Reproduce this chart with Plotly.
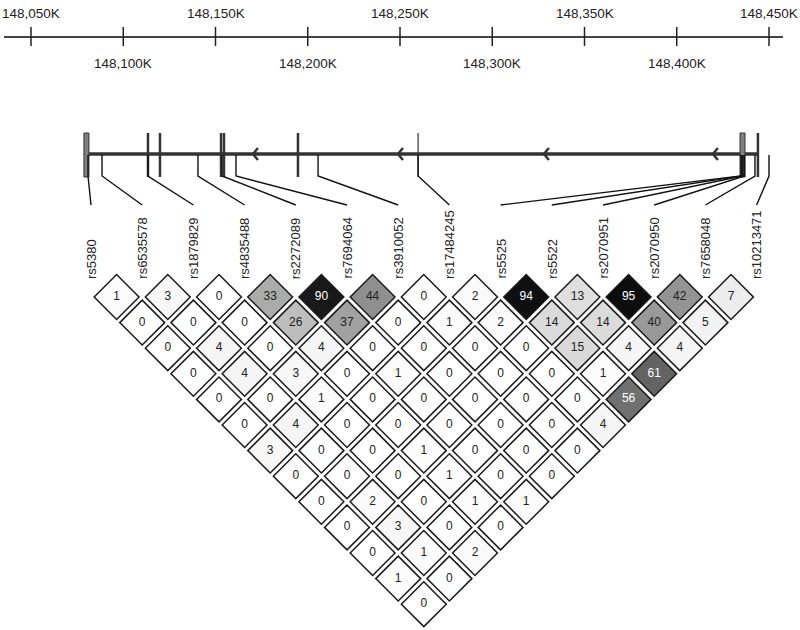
import plotly.graph_objects as go

# ---------------- data ----------------
snp_names = ["rs5380", "rs6535578", "rs1879829", "rs4835488", "rs2272089", "rs7694064",
             "rs3910052", "rs17484245", "rs5525", "rs5522", "rs2070951", "rs2070950",
             "rs7658048", "rs10213471"]
snp_pos_kb = [148080.9, 148088.5, 148113.4, 148140.5, 148153.5, 148161.1,
              148205.6, 148259.8, 148434.8, 148435.4, 148435.9, 148436.7,
              148442.4, 148450.0]

# pairwise r^2 x 100, listed by SNP distance (row 1 = adjacent pairs)
ld_rows = [
    [1, 3, 0, 33, 90, 44, 0, 2, 94, 13, 95, 42, 7],
    [0, 0, 0, 26, 37, 0, 1, 2, 14, 14, 40, 5],
    [0, 4, 0, 4, 0, 0, 0, 0, 15, 4, 4],
    [0, 4, 3, 0, 1, 0, 0, 0, 1, 61],
    [0, 0, 1, 0, 0, 0, 0, 0, 56],
    [0, 4, 0, 0, 0, 0, 0, 4],
    [3, 0, 0, 1, 0, 0, 0],
    [0, 0, 0, 1, 0, 0],
    [0, 2, 0, 1, 1],
    [0, 3, 0, 0],
    [0, 1, 2],
    [1, 0],
    [0],
]

axis_ticks_kb = [148050, 148100, 148150, 148200, 148250, 148300, 148350, 148400, 148450]
axis_tick_labels = ["148,050K", "148,100K", "148,150K", "148,200K", "148,250K",
                    "148,300K", "148,350K", "148,400K", "148,450K"]
axis_extent_kb = [148035.4, 148457.6]

gene_extent_kb = [148079.3, 148444.0]
exon_lines_kb = [148113.4, 148119.9, 148153.0, 148154.6, 148194.7, 148444.0]
thin_exon_kb = [148259.8]
exon_blocks_kb = [(148078.7, 148081.4), (148434.3, 148437.0)]
strand_arrows_kb = [148170.3, 148248.9, 148328.0, 148419.6]

# ---------------- layout calibration (pixels) ----------------
W, H = 800, 630
PX_PER_KB = 1.845
KB_REF, PX_REF = 148050, 31
IDX0_PX, IDX_STEP = 91, 51.2
ROW1_PX, ROW_STEP = 297, 25.6

Y_AXIS, Y_TICK0, Y_TICK1 = 37, 27, 46
Y_LAB_TOP, Y_LAB_BOT = 13, 63
Y_GENE, Y_EX0, Y_EX1 = 154, 133, 177
Y_SNP_BEND, Y_SNP_END = 176, 205
Y_LABEL_BOTTOM = 281

FONT = "Arial, Liberation Sans, sans-serif"
DARK = "#222222"


def kb_from_px(px):
    return KB_REF + (px - PX_REF) / PX_PER_KB


def label_kb(i):
    return kb_from_px(IDX0_PX + IDX_STEP * i)


fig = go.Figure()

# ---- top genomic axis ----
fig.add_trace(go.Scatter(x=axis_extent_kb, y=[Y_AXIS, Y_AXIS], mode="lines",
                         line=dict(color="#444444", width=2), hoverinfo="skip"))
tx, ty = [], []
for t in axis_ticks_kb:
    tx += [t, t, None]
    ty += [Y_TICK0, Y_TICK1, None]
fig.add_trace(go.Scatter(x=tx, y=ty, mode="lines", line=dict(color=DARK, width=1.5),
                         hoverinfo="skip"))
annotations = []
for k, (t, lab) in enumerate(zip(axis_ticks_kb, axis_tick_labels)):
    annotations.append(dict(x=t, y=Y_LAB_TOP if k % 2 == 0 else Y_LAB_BOT, xref="x", yref="y",
                            text=lab, showarrow=False, xanchor="center", yanchor="middle",
                            font=dict(family=FONT, size=13.5, color=DARK)))

# ---- gene track ----
fig.add_trace(go.Scatter(x=gene_extent_kb, y=[Y_GENE, Y_GENE], mode="lines",
                         line=dict(color="#333333", width=3.5), hoverinfo="skip"))
ex, ey = [], []
for e in exon_lines_kb:
    ex += [e, e, None]
    ey += [Y_EX0, Y_EX1, None]
fig.add_trace(go.Scatter(x=ex, y=ey, mode="lines", line=dict(color="#333333", width=2.5),
                         hoverinfo="skip"))
ex, ey = [], []
for e in thin_exon_kb:
    ex += [e, e, None]
    ey += [Y_EX0, Y_EX1, None]
fig.add_trace(go.Scatter(x=ex, y=ey, mode="lines", line=dict(color="#333333", width=1.2),
                         hoverinfo="skip"))
for s, e in exon_blocks_kb:
    fig.add_trace(go.Scatter(x=[s, e, e, s, s], y=[Y_EX0, Y_EX0, Y_EX1, Y_EX1, Y_EX0],
                             mode="lines", fill="toself", fillcolor="#808080",
                             line=dict(color="#333333", width=1), hoverinfo="skip"))
# strand chevrons
ax, ay = [], []
dkb = 5 / PX_PER_KB
for a in strand_arrows_kb:
    ax += [a + dkb, a, a + dkb, None]
    ay += [Y_GENE - 6, Y_GENE, Y_GENE + 6, None]
fig.add_trace(go.Scatter(x=ax, y=ay, mode="lines", line=dict(color="#333333", width=2.5),
                         hoverinfo="skip"))

# ---- SNP connectors ----
cx, cy = [], []
for i, p in enumerate(snp_pos_kb):
    cx += [p, p, label_kb(i), None]
    cy += [Y_GENE + 1, Y_SNP_BEND, Y_SNP_END, None]
fig.add_trace(go.Scatter(x=cx, y=cy, mode="lines", line=dict(color="#111111", width=1.4),
                         hoverinfo="skip"))

# ---- SNP labels ----
for i, name in enumerate(snp_names):
    annotations.append(dict(x=i, y=Y_LABEL_BOTTOM, xref="x2", yref="y", text=name,
                            showarrow=False, textangle=-90, xanchor="center",
                            yanchor="bottom",
                            font=dict(family=FONT, size=13, color=DARK)))

# ---- LD diamonds ----
dx, dy, dv, fills, tcol = [], [], [], [], []
for d, row in enumerate(ld_rows, start=1):
    for i, v in enumerate(row):
        dx.append(i + d / 2)
        dy.append(d)
        dv.append(str(v))
        g = round(255 * (1 - v / 100))
        fills.append(f"rgb({g},{g},{g})")
        tcol.append("#ffffff" if v >= 50 else DARK)

fig.add_trace(go.Scatter(x=dx, y=dy, xaxis="x2", yaxis="y2", mode="markers+text",
                         marker=dict(symbol="diamond", size=34.5, color=fills,
                                     line=dict(color="#1a1a1a", width=1.5)),
                         text=dv, textposition="middle center",
                         textfont=dict(family=FONT, size=12, color=tcol),
                         hoverinfo="skip", cliponaxis=False))

x_range = [kb_from_px(0), kb_from_px(W)]
y_range = [H, 0]
x2_range = [-IDX0_PX / IDX_STEP, (W - IDX0_PX) / IDX_STEP]
y2_range = [1 + (H - ROW1_PX) / ROW_STEP, 1 - ROW1_PX / ROW_STEP]

fig.update_layout(
    width=W, height=H, margin=dict(l=0, r=0, t=0, b=0),
    paper_bgcolor="white", plot_bgcolor="rgba(0,0,0,0)", showlegend=False,
    hovermode=False, dragmode=False,
    xaxis=dict(range=x_range, visible=False, domain=[0, 1], fixedrange=True),
    yaxis=dict(range=y_range, visible=False, domain=[0, 1], fixedrange=True),
    xaxis2=dict(range=x2_range, visible=False, overlaying="x", anchor="y2", fixedrange=True),
    yaxis2=dict(range=y2_range, visible=False, overlaying="y", anchor="x2", fixedrange=True),
    annotations=annotations,
)

# place the 800x630 figure flush with the window corner (no default page margin)
fig.write_html("out.html", config={"displayModeBar": False, "staticPlot": True},
               post_script="document.body.style.margin='0';document.body.style.padding='0';")
